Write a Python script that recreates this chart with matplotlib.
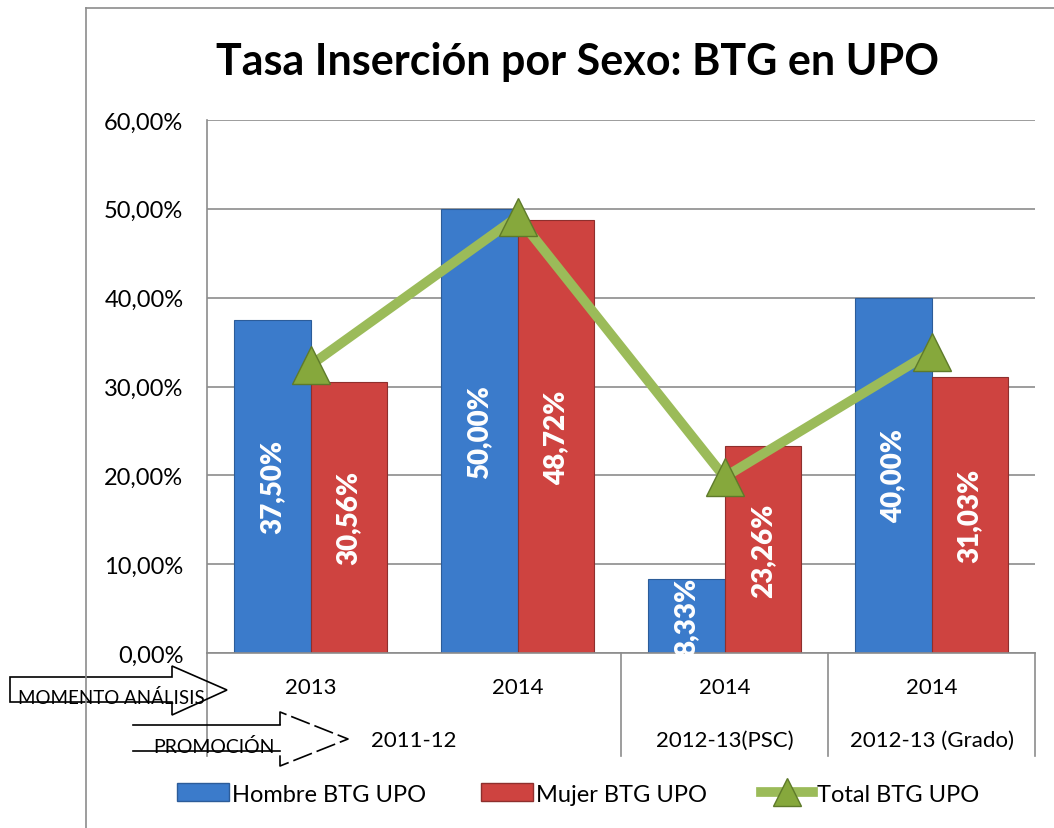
import matplotlib.pyplot as plt
from matplotlib.lines import Line2D
from matplotlib.patches import Patch, Polygon
from matplotlib.transforms import blended_transform_factory
import numpy as np

plt.rcParams['font.family'] = ['Lato', 'DejaVu Sans']

# data
momento = ['2013', '2014', '2014', '2014']
promocion = ['2011-12', '2012-13(PSC)', '2012-13 (Grado)']
promo_span = [(0, 1), (2, 2), (3, 3)]
hombre = [37.50, 50.00, 8.33, 40.00]
mujer = [30.56, 48.72, 23.26, 31.03]
total = [32.4, 49.1, 19.8, 33.9]
yticks = [0, 10, 20, 30, 40, 50, 60]

W, H = 1054, 829
BLUE = '#3B7BCB'
RED = '#CE4340'
GREEN = '#9BBB59'


def px(x, y):
    return x / W, 1 - y / H


fig = plt.figure(figsize=(W / 100, H / 100), dpi=100)
ax = fig.add_axes([207 / W, 1 - 654 / H, 828 / W, 533 / H])

x = np.arange(len(momento))
bw = 0.37
b1 = ax.bar(x - bw / 2, hombre, bw, color=BLUE, edgecolor='#2C5C99', linewidth=0.8, zorder=2)
b2 = ax.bar(x + bw / 2, mujer, bw, color=RED, edgecolor='#8E2F2D', linewidth=0.8, zorder=2)
ax.plot(x, total, color=GREEN, lw=7, marker='^', markersize=27,
        markerfacecolor='#86A83C', markeredgecolor='#5E7A2A', markeredgewidth=1, zorder=4)

for bars, vals in [(b1, hombre), (b2, mujer)]:
    for b, v in zip(bars, vals):
        ax.text(b.get_x() + b.get_width() / 2, v / 2, ('%.2f%%' % v).replace('.', ','),
                rotation=90, ha='center', va='center', color='white',
                fontsize=20, fontweight='heavy', zorder=3)

ax.set_xlim(-0.5, 3.5)
ax.set_ylim(0, 60)
ax.set_yticks(yticks)
ax.set_yticklabels(['%d,00%%' % t for t in yticks], fontsize=17)
ax.tick_params(axis='y', length=0, pad=17)
ax.set_xticks([])
ax.grid(axis='y', color='#8C8C8C', lw=1.2, zorder=0)
for s in ['top', 'right']:
    ax.spines[s].set_visible(False)
for s in ['left', 'bottom']:
    ax.spines[s].set_color('#8C8C8C')
    ax.spines[s].set_linewidth(1.2)

# multi-level category axis
tr = blended_transform_factory(ax.transData, ax.transAxes)
for i, lab in enumerate(momento):
    ax.text(i, -0.064, lab, transform=tr, ha='center', va='center', fontsize=16)
for lab, (a, b) in zip(promocion, promo_span):
    ax.text((a + b) / 2, -0.163, lab, transform=tr, ha='center', va='center', fontsize=16)
for xs in [-0.5, 1.5, 2.5, 3.5]:
    ax.plot([xs, xs], [0, -0.193], transform=tr, color='#8C8C8C', lw=1.2, clip_on=False)

# chart border
fig.add_artist(Line2D([86 / W, 86 / W], [0, 1 - 9 / H], color='#8C8C8C', lw=1.2))
fig.add_artist(Line2D([86 / W, 1], [1 - 9 / H, 1 - 9 / H], color='#8C8C8C', lw=1.2))

# arrows
arr1 = [(10, 678), (172, 678), (172, 667), (227, 691), (172, 716), (172, 703), (10, 703)]
fig.add_artist(Polygon([px(a, b) for a, b in arr1], closed=True, fill=False,
                       edgecolor='black', lw=1.2, transform=fig.transFigure))
fig.text(*px(18, 704), 'MOMENTO ANÁLISIS', fontsize=13.5, ha='left', va='baseline')

fig.add_artist(Line2D([133 / W, 280 / W], [1 - 726 / H] * 2, color='black', lw=1.2))
fig.add_artist(Line2D([133 / W, 280 / W], [1 - 752 / H] * 2, color='black', lw=1.2))
head = [(280, 726), (280, 713), (348, 740), (280, 767), (280, 752)]
fig.add_artist(Line2D([px(a, b)[0] for a, b in head], [px(a, b)[1] for a, b in head],
                      color='black', lw=1.2, ls=(0, (12, 3))))
fig.text(*px(153, 753), 'PROMOCIÓN', fontsize=14, ha='left', va='baseline')

fig.text(*px(577, 62), 'Tasa Inserción por Sexo: BTG en UPO', fontsize=31,
         fontweight='bold', ha='center', va='center')

handles = [Patch(facecolor=BLUE, edgecolor='#2C5C99'),
           Patch(facecolor=RED, edgecolor='#8E2F2D'),
           Line2D([], [], color=GREEN, lw=7, marker='^', markersize=20,
                  markerfacecolor='#86A83C', markeredgecolor='#5E7A2A')]
fig.legend(handles, ['Hombre BTG UPO', 'Mujer BTG UPO', 'Total BTG UPO'],
           loc='center', bbox_to_anchor=px(578, 795), ncol=3, frameon=False,
           fontsize=17, handlelength=2.2, handleheight=0.8, handletextpad=0.15,
           columnspacing=2.3)

fig.savefig('out.png', dpi=100)
